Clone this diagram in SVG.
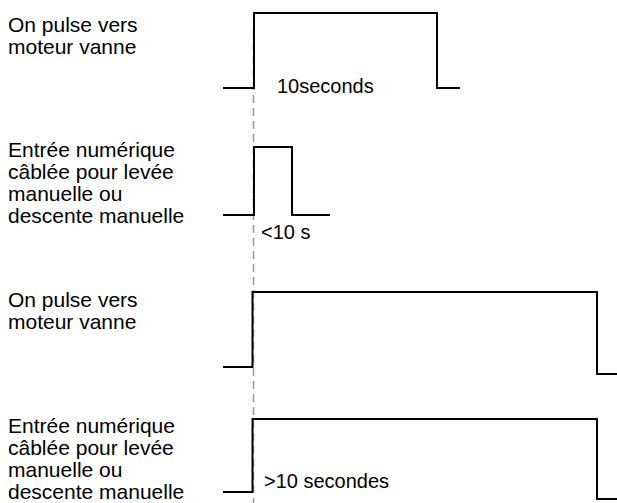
<svg xmlns="http://www.w3.org/2000/svg" width="617" height="503" viewBox="0 0 617 503">
<style>
.lbl{font-family:"Liberation Sans",Arial,sans-serif;font-size:20px;fill:#000}
.big{font-size:21px}
.sig{fill:none;stroke:#000;stroke-width:2}
.ref{fill:none;stroke:#999;stroke-width:1.5;stroke-dasharray:8 5}
</style>
<rect width="617" height="503" fill="#fff"/>
<g id="label1"><text class="lbl big" x="8" y="32">On pulse vers</text><text class="lbl big" x="8" y="54">moteur vanne</text></g>
<g id="label2"><text class="lbl big" x="8" y="157">Entrée numérique</text><text class="lbl big" x="8" y="179">câblée pour levée</text><text class="lbl big" x="8" y="201">manuelle ou</text><text class="lbl big" x="8" y="223">descente manuelle</text></g>
<g id="label3"><text class="lbl big" x="8" y="307">On pulse vers</text><text class="lbl big" x="8" y="329">moteur vanne</text></g>
<g id="label4"><text class="lbl big" x="8" y="433">Entrée numérique</text><text class="lbl big" x="8" y="455">câblée pour levée</text><text class="lbl big" x="8" y="477">manuelle ou</text><text class="lbl big" x="8" y="499">descente manuelle</text></g>
<g id="connectors">
<line class="ref" x1="253.5" y1="30" x2="253.5" y2="503"/>
<polyline class="sig" points="223,88 254,88 254,13 437,13 437,88 460,88"/>
<polyline class="sig" points="223,215 254,215 254,147 292,147 292,215 330,215"/>
<polyline class="sig" points="223,367 252.5,367 252.5,292 597,292 597,374 617,374"/>
<polyline class="sig" points="223,492 252.5,492 252.5,419 597,419 597,499 617,499"/>
</g>
<g id="t1"><text class="lbl" x="277" y="93">10seconds</text></g>
<g id="t2"><text class="lbl" x="261" y="239">&lt;10 s</text></g>
<g id="t3"><text class="lbl" x="264" y="488">&gt;10 secondes</text></g>
</svg>
